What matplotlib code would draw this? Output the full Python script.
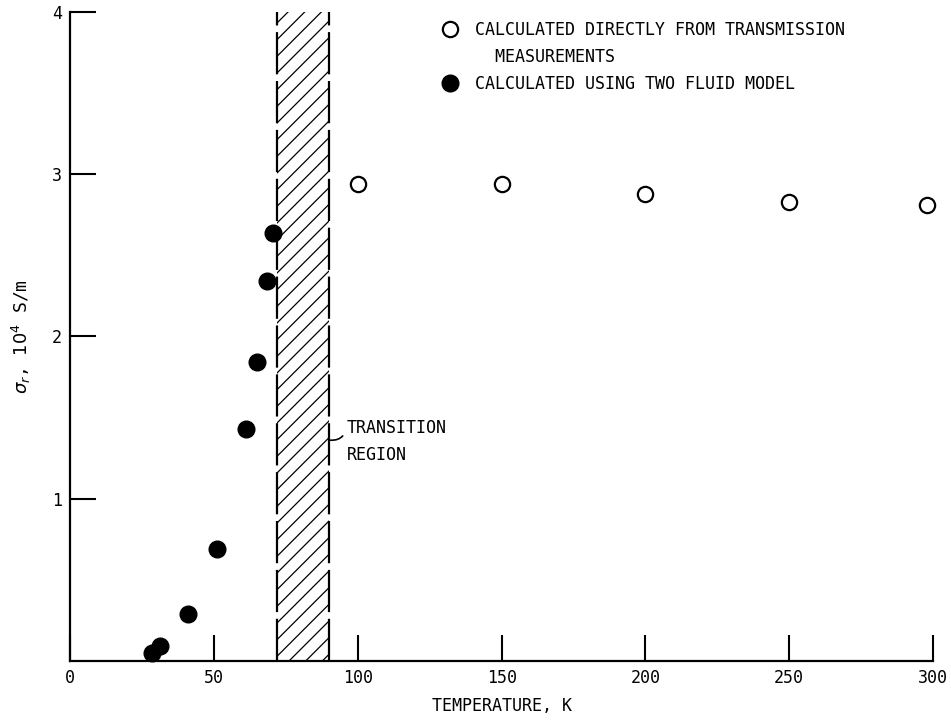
import numpy as np
import matplotlib
matplotlib.use("Agg")
import matplotlib.pyplot as plt
from matplotlib.lines import Line2D

# two fluid model (filled circles)
temp_two_fluid = [28.5, 31, 41, 51, 61, 65, 68.5, 70.5]
sigma_two_fluid = [0.05, 0.09, 0.29, 0.69, 1.43, 1.84, 2.34, 2.64]

# directly from transmission measurements (open circles)
temp_direct = [100, 150, 200, 250, 298]
sigma_direct = [2.94, 2.94, 2.88, 2.83, 2.81]

transition = (72, 90)

xticks = [0, 50, 100, 150, 200, 250, 300]
yticks = [1, 2, 3, 4]

plt.rcParams['font.family'] = ['DejaVu Sans Mono']
plt.rcParams['mathtext.fontset'] = 'dejavusans'
plt.rcParams['hatch.linewidth'] = 0.9

fig = plt.figure(figsize=(9.51, 7.22), dpi=100)
ax = fig.add_axes([0.074, 0.085, 0.907, 0.898])

# transition region
ax.axvspan(transition[0], transition[1], fill=False, hatch='//',
           edgecolor='black', linewidth=0)
for xv in transition:
    ax.axvline(xv, color='black', lw=1.6, dashes=(19, 3))

ax.plot(temp_two_fluid, sigma_two_fluid, 'o', color='black', ms=12,
        clip_on=False, zorder=3)
ax.plot(temp_direct, sigma_direct, 'o', mfc='white', mec='black', mew=1.6,
        ms=11, clip_on=False, zorder=3)

ax.annotate('TRANSITION\nREGION', xy=(transition[1] + 0.5, 1.36),
            xytext=(96, 1.49), fontsize=12, va='top', ha='left',
            linespacing=1.6,
            arrowprops=dict(arrowstyle='-', lw=1.2, color='black',
                            connectionstyle='arc3,rad=-0.4',
                            relpos=(0, 0.78), shrinkA=1, shrinkB=0))

ax.set_xlim(0, 300)
ax.set_ylim(0, 4)
ax.set_xticks(xticks)
ax.set_yticks(yticks)
ax.tick_params(direction='in', length=19, width=1.5, labelsize=12)
ax.tick_params(axis='x', pad=6)
ax.tick_params(axis='y', pad=6)
for s in ['top', 'right']:
    ax.spines[s].set_visible(False)
for s in ['left', 'bottom']:
    ax.spines[s].set_linewidth(1.6)

ax.set_xlabel('TEMPERATURE, K', fontsize=12, labelpad=7)
ax.set_ylabel(r'$\sigma_r$, $10^4$ S/m', fontsize=13, labelpad=14)

handles = [
    Line2D([], [], ls='', marker='o', mfc='white', mec='black', mew=1.6, ms=11),
    Line2D([], [], ls='', marker=''),
    Line2D([], [], ls='', marker='o', color='black', ms=12),
]
labels = ['CALCULATED DIRECTLY FROM TRANSMISSION',
          '  MEASUREMENTS',
          'CALCULATED USING TWO FLUID MODEL']
ax.legend(handles, labels, loc='upper left', bbox_to_anchor=(0.413, 1.01),
          frameon=False, fontsize=12, handlelength=1.0, handletextpad=1.0,
          labelspacing=0.55)

fig.savefig('out.png', dpi=100)
